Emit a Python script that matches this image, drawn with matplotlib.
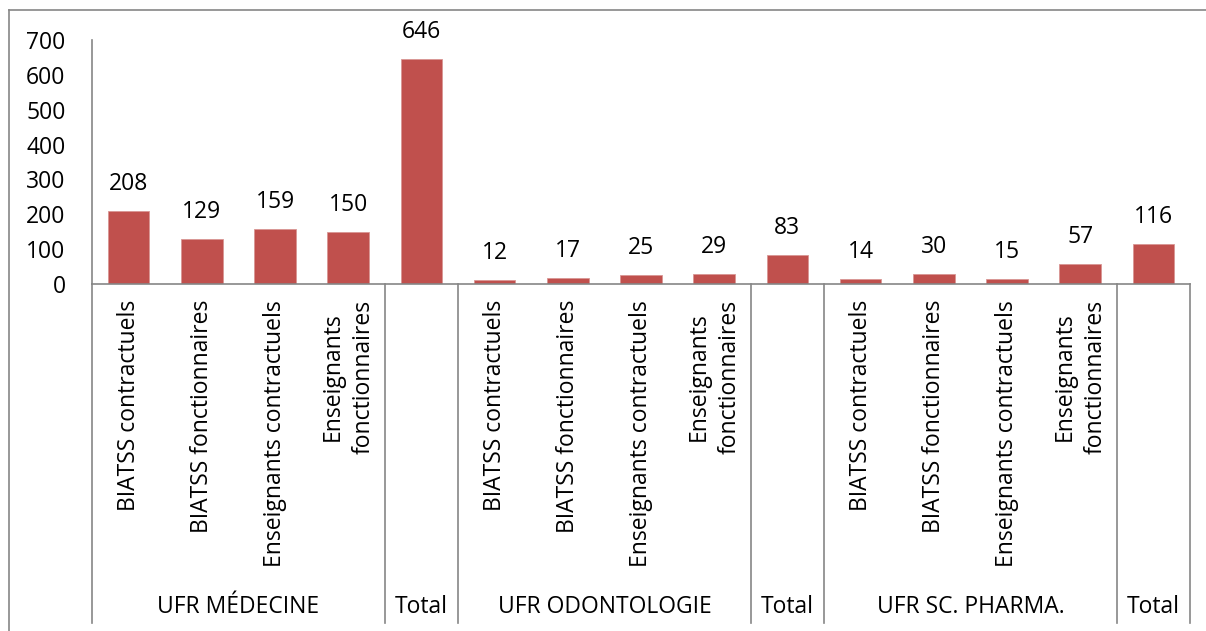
import numpy as np
import matplotlib.pyplot as plt
from matplotlib.lines import Line2D

plt.rcParams['font.family'] = ['Open Sans', 'DejaVu Sans']

sub_labels = ['BIATSS contractuels', 'BIATSS fonctionnaires', 'Enseignants contractuels',
              'Enseignants\nfonctionnaires', '',
              'BIATSS contractuels', 'BIATSS fonctionnaires', 'Enseignants contractuels',
              'Enseignants\nfonctionnaires', '',
              'BIATSS contractuels', 'BIATSS fonctionnaires', 'Enseignants contractuels',
              'Enseignants\nfonctionnaires', '']
group_labels = ['UFR MÉDECINE', 'Total', 'UFR ODONTOLOGIE', 'Total', 'UFR SC. PHARMA.', 'Total']
group_sizes = [4, 1, 4, 1, 4, 1]
values = [208, 129, 159, 150, 646, 12, 17, 25, 29, 83, 14, 30, 15, 57, 116]

W, H = 1206, 631
FS = 16.5
fig = plt.figure(figsize=(W / 100, H / 100), dpi=100)
ax = fig.add_axes([92 / W, 1 - 284 / H, (1190 - 92) / W, (284 - 40) / H])
px = 700 / 244  # data units per pixel

x = np.arange(len(values))
ax.bar(x, values, width=0.57, color='#C0504D', edgecolor='#D99694', linewidth=0.6)
for xi, v in zip(x, values):
    ax.text(xi, v + 27 * px, str(v), ha='center', va='center', fontsize=FS)

ax.set_xlim(-0.5, len(values) - 0.5)
ax.set_ylim(0, 700)
ax.set_yticks(range(0, 701, 100))
ax.tick_params(axis='y', length=0, labelsize=FS, pad=19)
ax.set_xticks([])
for s in ['top', 'right']:
    ax.spines[s].set_visible(False)
for s in ['left', 'bottom']:
    ax.spines[s].set_color('#868686')
    ax.spines[s].set_linewidth(1.2)

# category labels below axis
for xi, lab in zip(x, sub_labels):
    if lab:
        ax.text(xi, -16 * px, lab, rotation=90, ha='center', va='top',
                multialignment='center', fontsize=FS, linespacing=1.4)

# group labels and separators
bottom_y = -(623 - 284) * px
edges = np.concatenate([[0], np.cumsum(group_sizes)]) - 0.5
for e in edges:
    ax.plot([e, e], [0, bottom_y], color='#868686', lw=1.2, clip_on=False)
for lab, a, b in zip(group_labels, edges[:-1], edges[1:]):
    ax.text((a + b) / 2, -(607 - 284) * px, lab, ha='center', va='center', fontsize=FS)

# outer chart border
fig.add_artist(Line2D([9 / W, 9 / W], [0, 1 - 10 / H], color='#868686', lw=1.2))
fig.add_artist(Line2D([9 / W, 1], [1 - 10 / H, 1 - 10 / H], color='#868686', lw=1.2))

plt.savefig('out.png', dpi=100)
